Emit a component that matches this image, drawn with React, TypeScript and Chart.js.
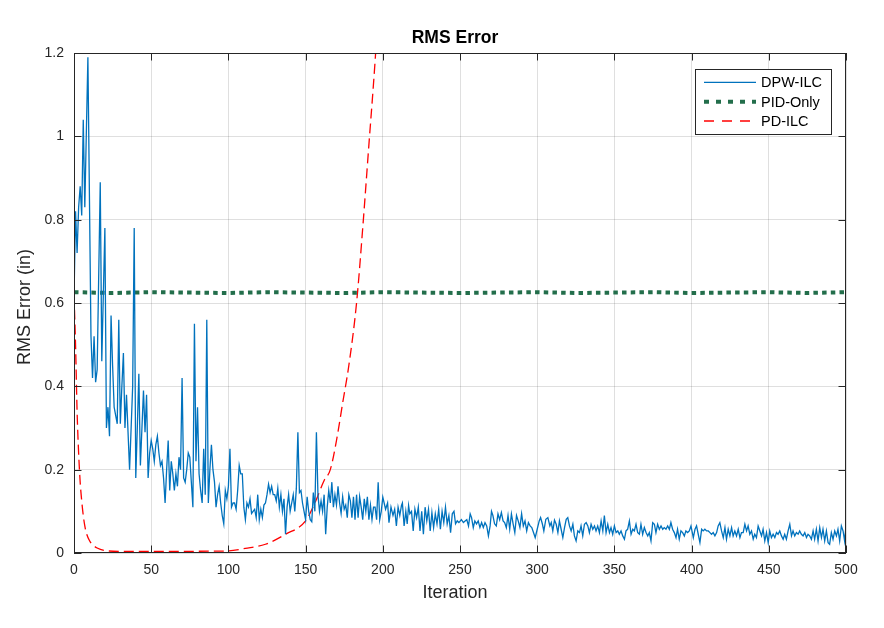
import { useEffect, useRef } from 'react';
import { Chart, registerables } from 'chart.js';

Chart.register(...registerables);

const FONT = '"Liberation Sans", Arial, Helvetica, sans-serif';
const AXIS_COLOR = '#262626';
const GRID_COLOR = 'rgba(38, 38, 38, 0.15)';

const chartTitle = 'RMS Error';
const xLabel = 'Iteration';
const yLabel = 'RMS Error (in)';

const xTicks = [0, 50, 100, 150, 200, 250, 300, 350, 400, 450, 500];
const yTicks = [0, 0.2, 0.4, 0.6, 0.8, 1, 1.2];

// DPW-ILC
const dpwIter = [
  0, 1, 2, 3, 4, 5, 6, 7, 9, 11, 12, 13, 14, 15, 17, 18, 20, 21, 22, 23, 24, 25, 26, 28, 29, 30,
  31, 32, 33, 34, 36, 38, 39, 40, 41, 42, 43, 44, 45, 46, 47, 48, 49, 50, 51, 52, 53, 54, 55, 56,
  57, 58, 59, 60, 61, 62, 63, 64, 65, 66, 67, 68, 69, 70, 71, 72, 73, 74, 75, 76, 77, 78, 79, 80,
  81, 82, 83, 84, 85, 86, 87, 88, 89, 90, 91, 92, 93, 94, 95, 96, 97, 98, 99, 100, 101,
  102, 103, 104, 105, 106, 107, 108, 109, 110, 111, 112, 113, 114, 115, 116, 117, 118, 119, 120,
  121, 122, 123, 124, 125, 126, 127, 128, 129, 130, 131, 132, 133, 134, 135, 136, 137, 138, 139,
  140, 141, 142, 143, 144, 145, 146, 147, 148, 149, 150, 151, 152, 153, 154, 155, 156, 157, 158,
  159, 160, 161, 162, 163, 164, 165, 166, 167, 168, 169, 170, 171, 172, 173, 174, 175, 176, 177,
  178, 179, 180, 181, 182, 183, 184, 185, 186, 187, 188, 189, 190, 191, 192, 193, 194, 195, 196,
  197, 198, 199,
  200, 201.8, 203.1, 204, 205.3, 206.6, 207.7, 208.8, 209.9, 211, 212.1, 212.7, 213.8, 214.9,
  215.8, 216.7, 217.5, 218.6, 219.7, 220.8, 221.9, 223, 224.1, 225.2, 226.3, 227.4, 228.5, 229.6,
  230.7, 231.8, 232.9, 234, 235.1, 236.2, 237.3, 238.4, 239.5, 240.6, 241.7, 242.8, 243.9, 245,
  246.1, 247.1, 248.2, 249.3, 250.9, 252.2, 253.3, 254.4, 255.5, 256.6, 257.5, 258.6, 259.6,
  260.7, 261.8, 262.9, 264, 265.1, 266.2, 267.3, 268.4, 269.5, 270.4, 271.3, 272.4, 273.5, 274.6,
  275.7, 276.8, 277.9, 278.9, 280, 281.1, 282.2, 283.3, 284.4, 285.5, 286.6, 287.7, 288.8, 289.9,
  291, 292.1, 293.2, 294.3, 295.4, 296.5, 297.6, 298.7,
  300, 301.3, 302.2, 303.4, 304.3, 305.6, 306.9, 308.2, 309.1, 310.1, 311.2, 312.3, 313.4, 314.4,
  315.5, 316.6, 317.7, 318.8, 319.8, 320.9, 322, 323.1, 324.1, 325.2, 326.3, 327.4, 328.4, 329.5,
  330.6, 331.7, 332.8, 333.8, 334.9, 336, 337.1, 338.1, 339.2, 340.3, 341.4, 342.5, 343.5, 344.6,
  345.7, 346.8, 347.8, 348.9, 350, 351.1, 352.2, 353.2, 354.3, 355.4, 356.5, 357.5, 358.6, 359.7,
  360.8, 361.9, 362.9, 364, 365.1, 366.2, 367.2, 368.3, 369.4, 370.5, 371.6, 372.6, 373.7, 374.8,
  375.9, 376.9, 378, 379.1, 380.2, 381.3, 382.3, 383.4, 384.5, 385.6, 386.6, 387.7, 388.8, 389.9,
  390.9, 392, 393.1, 394.2, 395.3, 396.3, 397.4, 398.5, 399.6,
  401.1, 402.2, 403.2, 404.3, 405.4, 406.5, 407.5, 408.6, 409.7, 410.8, 411.9, 412.9, 414, 415.1,
  416.2, 417.2, 418.3, 419.4, 420.5, 421.6, 422.6, 423.7, 424.8, 425.9, 426.9, 428, 429.1, 430.2,
  431.3, 432.3, 433.4, 434.5, 435.6, 436.6, 437.7, 438.8, 439.9, 440.9, 442, 443.1, 444.2, 445.3,
  446.3, 447.4, 448.5, 449.6, 450.6, 451.7, 452.8, 453.9, 455, 456, 457.1, 458.2, 459.3, 460.3,
  461.4, 462.5, 463.6, 464.7, 465.7, 466.8, 467.9, 469, 470, 471.1, 472.2, 473.3, 474.4, 475.4,
  476.5, 477.6, 478.7, 479.7, 480.8, 481.9, 483, 484.1, 485.1, 486.2, 487.3, 488.4, 489.4, 490.5,
  491.6, 492.7, 493.8, 494.8, 495.9, 497, 498.1, 499.1, 500,
];
const dpwRms = [
  0.61, 0.82, 0.72, 0.83, 0.88, 0.81, 1.04, 0.83, 1.19, 0.52, 0.42, 0.52, 0.41, 0.44, 0.89, 0.46,
  0.78, 0.3, 0.35, 0.28, 0.57, 0.45, 0.35, 0.31, 0.56, 0.31,
  0.4, 0.48, 0.3, 0.38, 0.2, 0.4, 0.78, 0.18, 0.3, 0.43, 0.21, 0.3, 0.39, 0.29, 0.38, 0.18, 0.24,
  0.27, 0.25, 0.22, 0.26, 0.28, 0.24, 0.21,
  0.22, 0.18, 0.12, 0.2, 0.27, 0.15, 0.22, 0.19, 0.15, 0.19, 0.16, 0.23, 0.2, 0.42, 0.18, 0.17,
  0.2, 0.24, 0.23, 0.17, 0.11, 0.55, 0.22, 0.35,
  0.19, 0.15, 0.12, 0.25, 0.14, 0.56, 0.12, 0.2, 0.26, 0.2, 0.17, 0.11, 0.14, 0.16, 0.12, 0.09,
  0.07, 0.15, 0.13, 0.16, 0.25,
  0.11, 0.12, 0.12, 0.105, 0.15, 0.21, 0.19, 0.19, 0.11, 0.08, 0.12, 0.11, 0.13, 0.095, 0.1,
  0.105, 0.085, 0.14, 0.08,
  0.105, 0.085, 0.115, 0.12, 0.14, 0.165, 0.145, 0.16, 0.14, 0.14, 0.125, 0.155, 0.11, 0.14, 0.1,
  0.13, 0.045, 0.11, 0.14,
  0.1, 0.12, 0.14, 0.1, 0.155, 0.29, 0.145, 0.15, 0.12, 0.1, 0.08, 0.135, 0.1, 0.08, 0.075, 0.145,
  0.1, 0.29, 0.14,
  0.1, 0.125, 0.1, 0.14, 0.045, 0.11, 0.15, 0.12, 0.17, 0.11, 0.14, 0.115, 0.16, 0.12, 0.095,
  0.135, 0.105, 0.115, 0.085,
  0.14, 0.125, 0.085, 0.135, 0.08, 0.14, 0.085, 0.135, 0.11, 0.08, 0.13, 0.1, 0.135, 0.08, 0.115,
  0.08, 0.11, 0.11, 0.08,
  0.17, 0.08, 0.1,
  0.134, 0.105, 0.12, 0.073, 0.11, 0.09, 0.105, 0.065, 0.11, 0.09, 0.114, 0.12, 0.065, 0.1,
  0.07, 0.114, 0.094, 0.1, 0.053, 0.105, 0.085, 0.11, 0.053, 0.1, 0.045, 0.11, 0.077, 0.105,
  0.053, 0.097, 0.061, 0.094, 0.07, 0.105, 0.057, 0.1, 0.073, 0.11, 0.07, 0.09, 0.049, 0.094,
  0.1, 0.07, 0.077, 0.073, 0.08, 0.073, 0.077, 0.08, 0.065, 0.094, 0.085, 0.061, 0.077,
  0.07, 0.077, 0.061, 0.073, 0.061, 0.073, 0.065, 0.041, 0.065, 0.1, 0.09, 0.07, 0.065, 0.094,
  0.08, 0.097, 0.077, 0.073, 0.061, 0.09, 0.057, 0.094, 0.07, 0.049, 0.09, 0.077, 0.061, 0.094,
  0.065, 0.077, 0.053, 0.073, 0.065, 0.061, 0.049, 0.037,
  0.057, 0.077, 0.085, 0.069, 0.053, 0.081, 0.085, 0.065, 0.073, 0.053, 0.079, 0.069, 0.049, 0.077,
  0.057, 0.037, 0.061, 0.081, 0.085, 0.065, 0.053, 0.069, 0.041, 0.029, 0.053, 0.049, 0.065, 0.041,
  0.069, 0.073, 0.065, 0.049, 0.069, 0.057, 0.065, 0.053, 0.065, 0.049, 0.077, 0.053, 0.09, 0.049,
  0.069, 0.049, 0.061, 0.045, 0.065, 0.049, 0.053, 0.045, 0.053, 0.041, 0.033, 0.053, 0.057, 0.077,
  0.045, 0.057, 0.053, 0.069, 0.049, 0.045, 0.069, 0.045, 0.061, 0.049, 0.041, 0.049, 0.029, 0.073,
  0.069, 0.049, 0.069, 0.057, 0.065, 0.057, 0.061, 0.057, 0.065, 0.057, 0.073, 0.057, 0.049, 0.037,
  0.057, 0.033, 0.053, 0.049, 0.041, 0.053, 0.049, 0.053, 0.065,
  0.037, 0.057, 0.065, 0.045, 0.025, 0.057, 0.053, 0.057, 0.053, 0.053, 0.049, 0.045, 0.049, 0.041,
  0.049, 0.065, 0.073, 0.053, 0.037, 0.061, 0.033, 0.057, 0.041, 0.061, 0.041, 0.053, 0.041, 0.057,
  0.037, 0.049, 0.049, 0.069, 0.053, 0.065, 0.045, 0.053, 0.033, 0.045, 0.037, 0.065, 0.053, 0.041,
  0.057, 0.029, 0.049, 0.025, 0.053, 0.037, 0.045, 0.037, 0.049, 0.045, 0.053, 0.041, 0.033, 0.045,
  0.033, 0.053, 0.069, 0.041, 0.053, 0.041, 0.049, 0.045, 0.053, 0.045, 0.041, 0.049, 0.037, 0.045,
  0.041, 0.033, 0.053, 0.033, 0.057, 0.029, 0.061, 0.037, 0.057, 0.029, 0.053, 0.025, 0.021, 0.049,
  0.033, 0.053, 0.041, 0.057, 0.029, 0.065, 0.053, 0.029, 0.065,
];

// PID-Only: practically flat
const pidIter = [0, 25, 50, 75, 100, 125, 150, 175, 200, 225, 250, 275, 300, 325, 350, 375, 400, 425, 450, 475, 500];
const pidRms = [
  0.626, 0.624, 0.626, 0.625, 0.624, 0.626, 0.625, 0.624, 0.626, 0.625, 0.624, 0.625, 0.626, 0.624,
  0.625, 0.626, 0.624, 0.625, 0.626, 0.624, 0.626,
];

// PD-ILC: fast initial drop, then divergence
const pdIter = [
  0, 1, 2, 3, 4, 5, 6, 7, 8, 10, 12, 15, 20, 30, 50, 70, 90, 100, 111, 124, 137, 150, 156, 162,
  166, 170, 174, 178, 183, 187, 191, 195, 197,
];
const pdRms = [
  0.62, 0.5, 0.34, 0.24, 0.17, 0.125, 0.09, 0.065, 0.048, 0.03, 0.02, 0.012, 0.006, 0.004, 0.004,
  0.004, 0.0045, 0.005, 0.011, 0.021, 0.045, 0.077, 0.12, 0.174, 0.2, 0.27, 0.36, 0.45, 0.6, 0.78,
  0.98, 1.18, 1.3,
];

const seriesNames = ['DPW-ILC', 'PID-Only', 'PD-ILC'];
const seriesColors = ['#0072bd', '#236e4b', '#ff0000'];

const toPoints = (xs: number[], ys: number[]) => xs.map((x, i) => ({ x, y: ys[i] }));

const fmt = (v: number) => String(Number(v.toFixed(1)));

const framePlugin = {
  id: 'frame',
  afterDraw(chart: Chart) {
    const { ctx, chartArea: a } = chart;
    const sx = chart.scales.x;
    const sy = chart.scales.y;
    ctx.save();

    // axes box
    ctx.strokeStyle = AXIS_COLOR;
    ctx.lineWidth = 1;
    ctx.setLineDash([]);
    ctx.strokeRect(a.left + 0.5, a.top + 0.5, a.right - a.left - 1, a.bottom - a.top - 1);

    // inward ticks on all four sides
    const len = 7.5;
    ctx.beginPath();
    xTicks.forEach((v) => {
      const px = Math.round(sx.getPixelForValue(v)) + 0.5;
      ctx.moveTo(px, a.bottom);
      ctx.lineTo(px, a.bottom - len);
      ctx.moveTo(px, a.top);
      ctx.lineTo(px, a.top + len);
    });
    yTicks.forEach((v) => {
      const py = Math.round(sy.getPixelForValue(v)) + 0.5;
      ctx.moveTo(a.left, py);
      ctx.lineTo(a.left + len, py);
      ctx.moveTo(a.right, py);
      ctx.lineTo(a.right - len, py);
    });
    ctx.stroke();

    // title and axis labels
    const cx = 455;
    ctx.fillStyle = '#000';
    ctx.textAlign = 'center';
    ctx.textBaseline = 'middle';
    ctx.font = `bold 17.5px ${FONT}`;
    ctx.fillText(chartTitle, cx, 38);
    ctx.fillStyle = AXIS_COLOR;
    ctx.font = `18px ${FONT}`;
    ctx.fillText(xLabel, cx, 593);
    ctx.save();
    ctx.translate(25, 307);
    ctx.rotate(-Math.PI / 2);
    ctx.fillText(yLabel, 0, 0);
    ctx.restore();

    // legend box
    const lx = 695;
    const ly = 69;
    const lw = 136;
    const lh = 65;
    ctx.fillStyle = '#fff';
    ctx.fillRect(lx, ly, lw, lh);
    ctx.strokeStyle = AXIS_COLOR;
    ctx.lineWidth = 1;
    ctx.strokeRect(lx + 0.5, ly + 0.5, lw, lh);

    const rows = [82.3, 101.7, 121];
    const dashes = [[], [5, 7], [10, 8]];
    const widths = [1.3, 4, 1.3];
    rows.forEach((ry, i) => {
      ctx.beginPath();
      ctx.strokeStyle = seriesColors[i];
      ctx.lineWidth = widths[i];
      ctx.setLineDash(dashes[i]);
      ctx.moveTo(704, ry);
      ctx.lineTo(756, ry);
      ctx.stroke();
      ctx.setLineDash([]);
      ctx.fillStyle = '#000';
      ctx.textAlign = 'left';
      ctx.font = `14.5px ${FONT}`;
      ctx.fillText(seriesNames[i], 761, ry + 1);
    });

    ctx.restore();
  },
};

export default function App() {
  const canvasRef = useRef<HTMLCanvasElement>(null);
  const chartRef = useRef<Chart | null>(null);

  useEffect(() => {
    if (!canvasRef.current) return;
    const ctx = canvasRef.current.getContext('2d');
    if (!ctx) return;

    if (chartRef.current) {
      chartRef.current.destroy();
      chartRef.current = null;
    }

    chartRef.current = new Chart(ctx, {
      type: 'line',
      data: {
        datasets: [
          {
            label: seriesNames[0],
            data: toPoints(dpwIter, dpwRms),
            borderColor: seriesColors[0],
            borderWidth: 1.3,
            pointRadius: 0,
            tension: 0,
          },
          {
            label: seriesNames[1],
            data: toPoints(pidIter, pidRms),
            borderColor: seriesColors[1],
            borderWidth: 4,
            borderDash: [4.5, 4.2],
            pointRadius: 0,
            tension: 0,
          },
          {
            label: seriesNames[2],
            data: toPoints(pdIter, pdRms),
            borderColor: seriesColors[2],
            borderWidth: 1.3,
            borderDash: [10, 5],
            pointRadius: 0,
            cubicInterpolationMode: 'monotone',
          },
        ],
      },
      options: {
        animation: false,
        responsive: true,
        maintainAspectRatio: false,
        parsing: false,
        layout: { padding: { top: 53, right: 38, left: 0, bottom: 0 } },
        plugins: {
          legend: { display: false },
          tooltip: { enabled: false },
          title: { display: false },
        },
        scales: {
          x: {
            type: 'linear',
            min: 0,
            max: 500,
            afterFit: (s: any) => {
              s.height = 75;
            },
            afterBuildTicks: (s: any) => {
              s.ticks = xTicks.map((v) => ({ value: v }));
            },
            grid: { color: GRID_COLOR, drawTicks: false },
            border: { display: false },
            ticks: {
              padding: 9,
              color: AXIS_COLOR,
              font: { family: FONT, size: 14 },
              maxRotation: 0,
              callback: (v: any) => String(v),
            },
          },
          y: {
            type: 'linear',
            min: 0,
            max: 1.2,
            afterFit: (s: any) => {
              s.width = 74;
            },
            afterBuildTicks: (s: any) => {
              s.ticks = yTicks.map((v) => ({ value: v }));
            },
            grid: { color: GRID_COLOR, drawTicks: false },
            border: { display: false },
            ticks: {
              padding: 10,
              color: AXIS_COLOR,
              font: { family: FONT, size: 14 },
              callback: (v: any) => fmt(Number(v)),
            },
          },
        },
      },
      plugins: [framePlugin],
    });

    return () => {
      if (chartRef.current) {
        chartRef.current.destroy();
        chartRef.current = null;
      }
    };
  }, []);

  return (
    <div style={{ position: 'absolute', left: 0, top: 0, width: 884, height: 628, background: '#fff' }}>
      <canvas ref={canvasRef} />
    </div>
  );
}
